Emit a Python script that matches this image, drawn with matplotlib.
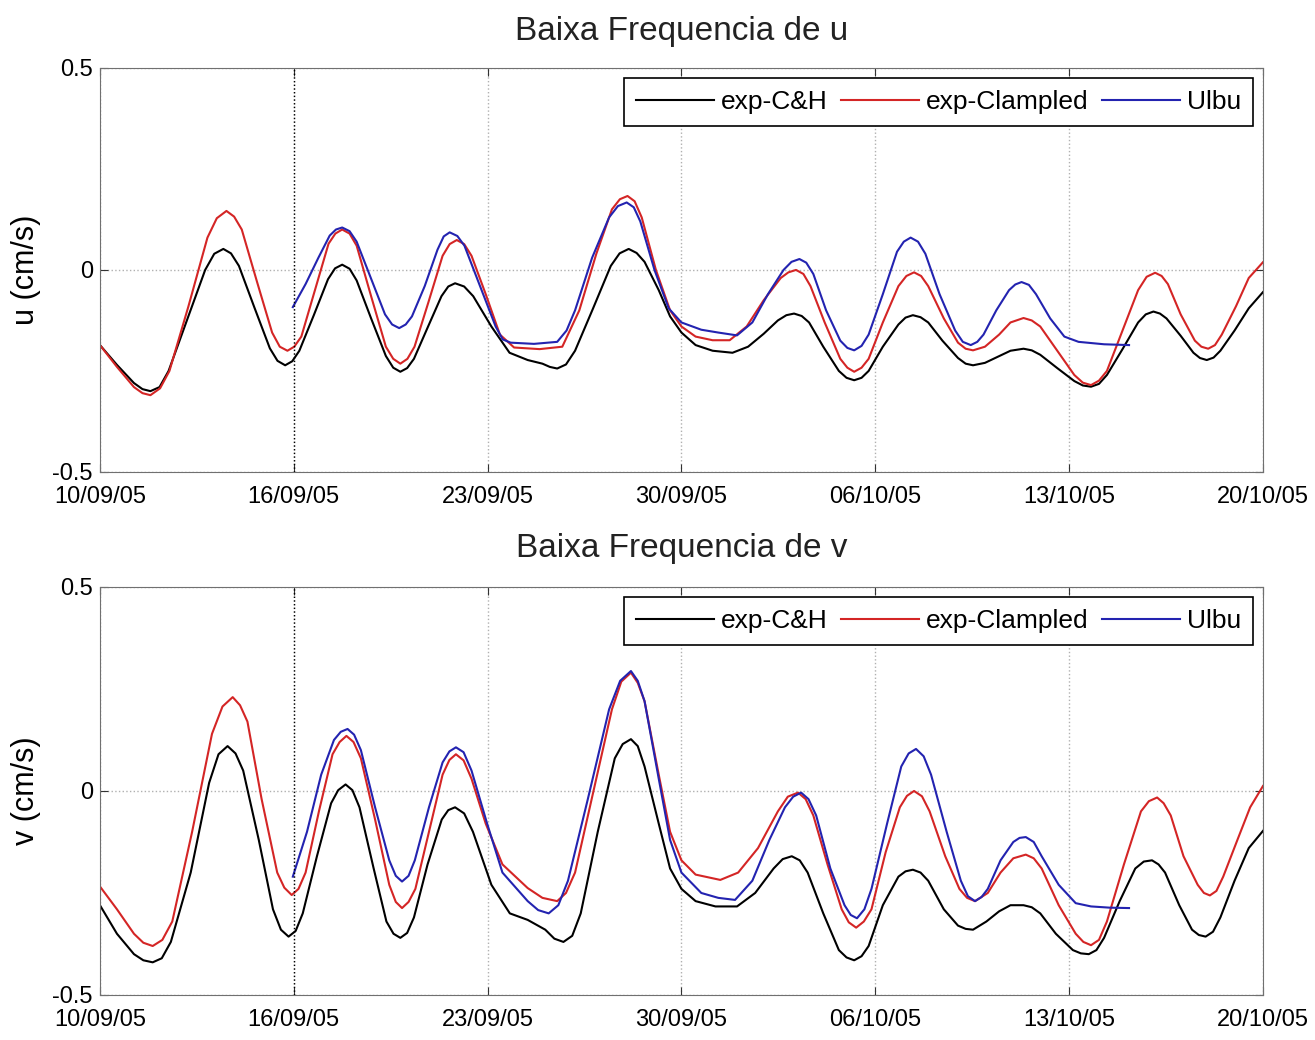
import matplotlib
matplotlib.use("Agg")
import matplotlib.pyplot as plt
import numpy as np

plt.rcParams['font.family'] = ['Liberation Sans', 'DejaVu Sans']

# x axis: days since 10/09/05, ticks evenly spread like the original
tick_labels = ['10/09/05', '16/09/05', '23/09/05', '30/09/05', '06/10/05', '13/10/05', '20/10/05']
x_end = 41.0

# ---- u component (top) ----
u_ch_x = [0, 0.6, 1.2, 1.5, 1.78, 2.1, 2.42, 3.07, 3.71, 4.03, 4.35, 4.62, 4.9, 5.44, 5.99, 6.26, 6.53,
          6.78, 7.03, 7.54, 8.04, 8.29, 8.54, 8.8, 9.05, 9.56, 10.08, 10.34, 10.59, 10.83, 11.07, 11.55,
          12.04, 12.28, 12.52, 12.84, 13.16, 13.8, 14.44, 15.08, 15.6, 15.86, 16.12, 16.43, 16.75, 17.38,
          18.01, 18.32, 18.64, 18.92, 19.2, 19.7, 20.1, 20.5, 21.0, 21.6, 22.3, 22.85, 23.4, 23.9, 24.2,
          24.47, 24.74, 25.0, 25.5, 26.05, 26.32, 26.59, 26.85, 27.1, 27.6, 28.15, 28.4, 28.66, 28.93,
          29.2, 29.7, 30.25, 30.52, 30.78, 31.2, 31.65, 32.1, 32.56, 32.85, 33.15, 33.75, 34.35, 34.65,
          34.94, 35.22, 35.5, 36.05, 36.6, 36.87, 37.14, 37.37, 37.6, 38.1, 38.55, 38.78, 39.02, 39.26,
          39.5, 40.0, 40.5, 41.0]
u_ch = [-0.186, -0.235, -0.28, -0.295, -0.30, -0.29, -0.25, -0.124, 0.0, 0.04, 0.052, 0.041, 0.01,
        -0.092, -0.194, -0.225, -0.236, -0.226, -0.2, -0.112, -0.023, 0.004, 0.013, 0.003, -0.026,
        -0.12, -0.213, -0.242, -0.252, -0.243, -0.22, -0.143, -0.065, -0.041, -0.033, -0.041, -0.065,
        -0.14, -0.205, -0.223, -0.232, -0.24, -0.244, -0.234, -0.2, -0.096, 0.01, 0.041, 0.052, 0.042,
        0.02, -0.05, -0.115, -0.155, -0.186, -0.2, -0.205, -0.19, -0.158, -0.125, -0.112, -0.108,
        -0.114, -0.13, -0.19, -0.25, -0.267, -0.273, -0.267, -0.25, -0.19, -0.135, -0.118, -0.112,
        -0.117, -0.13, -0.175, -0.218, -0.232, -0.236, -0.23, -0.215, -0.2, -0.195, -0.199, -0.21,
        -0.243, -0.275, -0.286, -0.289, -0.282, -0.26, -0.196, -0.13, -0.11, -0.103, -0.108, -0.12,
        -0.163, -0.205, -0.218, -0.223, -0.217, -0.2, -0.15, -0.095, -0.055]

u_cl_x = [0, 0.6, 1.2, 1.5, 1.78, 2.12, 2.45, 3.12, 3.79, 4.12, 4.46, 4.73, 5.0, 5.54, 6.07, 6.34, 6.61,
          6.85, 7.1, 7.58, 8.06, 8.3, 8.54, 8.8, 9.05, 9.56, 10.08, 10.34, 10.59, 10.84, 11.09, 11.58,
          12.08, 12.33, 12.58, 12.84, 13.1, 13.6, 14.1, 14.6, 15.5, 16.3, 16.9, 17.5, 18.05, 18.33, 18.6,
          18.85, 19.1, 19.6, 20.1, 20.5, 21.0, 21.6, 22.2, 22.8, 23.4, 24.0, 24.27, 24.54, 24.8, 25.05,
          25.55, 26.1, 26.35, 26.59, 26.85, 27.1, 27.6, 28.15, 28.43, 28.7, 28.95, 29.2, 29.75, 30.25,
          30.52, 30.78, 31.2, 31.7, 32.1, 32.56, 32.85, 33.15, 33.75, 34.35, 34.65, 34.94, 35.22, 35.5,
          36.05, 36.6, 36.9, 37.2, 37.43, 37.65, 38.1, 38.6, 38.83, 39.07, 39.31, 39.55, 40.05, 40.5,
          41.0]
u_cl = [-0.186, -0.24, -0.29, -0.305, -0.31, -0.293, -0.25, -0.09, 0.08, 0.128, 0.146, 0.132, 0.1,
        -0.03, -0.155, -0.19, -0.2, -0.19, -0.165, -0.05, 0.065, 0.09, 0.10, 0.09, 0.06, -0.065, -0.19,
        -0.22, -0.232, -0.22, -0.19, -0.08, 0.035, 0.064, 0.074, 0.064, 0.035, -0.06, -0.16, -0.192,
        -0.196, -0.19, -0.1, 0.04, 0.15, 0.175, 0.183, 0.17, 0.13, 0.0, -0.1, -0.14, -0.165, -0.174,
        -0.174, -0.14, -0.075, -0.02, -0.006, 0.0, -0.01, -0.04, -0.13, -0.22, -0.242, -0.252, -0.242,
        -0.22, -0.13, -0.04, -0.015, -0.006, -0.015, -0.04, -0.12, -0.18, -0.195, -0.199, -0.19, -0.16,
        -0.13, -0.119, -0.125, -0.14, -0.2, -0.26, -0.279, -0.285, -0.274, -0.25, -0.15, -0.05, -0.017,
        -0.007, -0.015, -0.035, -0.11, -0.175, -0.19, -0.195, -0.186, -0.16, -0.09, -0.02, 0.019]

u_ub_x = [6.8, 7.25, 7.7, 8.1, 8.32, 8.54, 8.8, 9.05, 9.55, 10.05, 10.3, 10.55, 10.78, 11.0, 11.45, 11.9,
          12.12, 12.33, 12.6, 12.85, 13.4, 13.95, 14.2, 14.48, 15.3, 16.12, 16.45, 16.75, 17.35, 17.95,
          18.26, 18.57, 18.82, 19.05, 19.55, 20.05, 20.5, 21.2, 21.8, 22.46, 23.0, 23.55, 24.1, 24.38,
          24.66, 24.9, 25.15, 25.6, 26.1, 26.35, 26.59, 26.85, 27.1, 27.6, 28.1, 28.34, 28.58, 28.84,
          29.1, 29.6, 30.15, 30.42, 30.7, 30.93, 31.15, 31.6, 32.05, 32.27, 32.49, 32.75, 33.0, 33.5,
          34.0, 34.5, 35.4, 36.28]
u_ub = [-0.092, -0.035, 0.03, 0.085, 0.1, 0.105, 0.096, 0.07, -0.02, -0.11, -0.135, -0.144, -0.135,
        -0.115, -0.04, 0.05, 0.083, 0.093, 0.084, 0.06, -0.04, -0.14, -0.172, -0.18, -0.183, -0.178,
        -0.15, -0.1, 0.03, 0.13, 0.158, 0.167, 0.155, 0.12, 0.0, -0.095, -0.13, -0.148, -0.155, -0.162,
        -0.13, -0.06, 0.0, 0.02, 0.027, 0.018, -0.01, -0.1, -0.175, -0.193, -0.199, -0.188, -0.16,
        -0.06, 0.045, 0.07, 0.08, 0.07, 0.04, -0.06, -0.15, -0.178, -0.186, -0.178, -0.16, -0.1, -0.05,
        -0.036, -0.03, -0.037, -0.06, -0.12, -0.165, -0.178, -0.184, -0.186]

# ---- v component (bottom) ----
v_ch_x = [0, 0.6, 1.2, 1.53, 1.86, 2.18, 2.5, 3.2, 3.85, 4.18, 4.5, 4.78, 5.05, 5.6, 6.1, 6.38, 6.65,
          6.9, 7.15, 7.65, 8.15, 8.4, 8.66, 8.9, 9.15, 9.65, 10.1, 10.35, 10.59, 10.83, 11.07, 11.55,
          12.05, 12.28, 12.52, 12.84, 13.15, 13.8, 14.45, 15.08, 15.7, 16.02, 16.34, 16.65, 16.95, 17.55,
          18.15, 18.43, 18.72, 18.96, 19.2, 19.7, 20.1, 20.5, 21.0, 21.7, 22.46, 23.1, 23.75, 24.07,
          24.39, 24.67, 24.95, 25.5, 26.05, 26.32, 26.59, 26.85, 27.1, 27.6, 28.15, 28.4, 28.66, 28.93,
          29.2, 29.75, 30.25, 30.52, 30.78, 31.25, 31.7, 32.1, 32.56, 32.85, 33.15, 33.7, 34.3, 34.58,
          34.86, 35.13, 35.4, 35.95, 36.5, 36.8, 37.09, 37.32, 37.55, 38.05, 38.5, 38.74, 38.98, 39.24,
          39.5, 40.0, 40.5, 41.0]
v_ch = [-0.28, -0.35, -0.4, -0.415, -0.42, -0.41, -0.37, -0.2, 0.02, 0.09, 0.11, 0.092, 0.05, -0.12,
        -0.29, -0.34, -0.357, -0.343, -0.3, -0.16, -0.03, 0.002, 0.016, 0.002, -0.04, -0.19, -0.32,
        -0.35, -0.36, -0.348, -0.31, -0.18, -0.07, -0.047, -0.04, -0.055, -0.1, -0.23, -0.3, -0.316,
        -0.34, -0.362, -0.37, -0.355, -0.3, -0.1, 0.08, 0.115, 0.127, 0.11, 0.06, -0.08, -0.19, -0.24,
        -0.27, -0.283, -0.283, -0.25, -0.19, -0.167, -0.16, -0.17, -0.2, -0.3, -0.39, -0.408, -0.415,
        -0.405, -0.38, -0.28, -0.21, -0.197, -0.193, -0.2, -0.22, -0.29, -0.33, -0.338, -0.34, -0.32,
        -0.295, -0.28, -0.28, -0.285, -0.3, -0.35, -0.39, -0.398, -0.40, -0.39, -0.36, -0.27, -0.19,
        -0.173, -0.17, -0.18, -0.2, -0.28, -0.34, -0.353, -0.357, -0.345, -0.31, -0.22, -0.14, -0.098]

v_cl_x = [0, 0.6, 1.2, 1.53, 1.86, 2.2, 2.55, 3.25, 3.95, 4.32, 4.68, 4.94, 5.2, 5.7, 6.25, 6.5, 6.76,
          7.0, 7.25, 7.72, 8.2, 8.45, 8.69, 8.94, 9.2, 9.7, 10.2, 10.43, 10.65, 10.88, 11.12, 11.6, 12.08,
          12.32, 12.55, 12.82, 13.1, 13.6, 14.19, 15.08, 15.6, 16.12, 16.43, 16.75, 17.4, 18.05, 18.38,
          18.72, 18.96, 19.2, 19.7, 20.1, 20.5, 21.0, 21.87, 22.5, 23.2, 23.9, 24.25, 24.61, 24.88, 25.15,
          25.65, 26.15, 26.4, 26.66, 26.93, 27.2, 27.7, 28.2, 28.45, 28.7, 28.98, 29.25, 29.8, 30.3,
          30.57, 30.85, 31.3, 31.75, 32.2, 32.64, 32.92, 33.2, 33.8, 34.4, 34.67, 34.94, 35.22, 35.5,
          36.1, 36.7, 36.98, 37.27, 37.5, 37.75, 38.2, 38.7, 38.92, 39.13, 39.36, 39.6, 40.1, 40.55,
          41.0]
v_cl = [-0.234, -0.29, -0.35, -0.372, -0.38, -0.365, -0.32, -0.1, 0.14, 0.207, 0.23, 0.21, 0.17, -0.02,
        -0.2, -0.237, -0.255, -0.24, -0.2, -0.05, 0.09, 0.12, 0.135, 0.12, 0.08, -0.07, -0.23, -0.272,
        -0.287, -0.272, -0.24, -0.1, 0.04, 0.076, 0.09, 0.075, 0.03, -0.08, -0.18, -0.238, -0.262,
        -0.27, -0.25, -0.2, 0.0, 0.2, 0.268, 0.29, 0.265, 0.22, 0.04, -0.1, -0.17, -0.205, -0.218,
        -0.2, -0.14, -0.05, -0.014, -0.004, -0.02, -0.06, -0.18, -0.29, -0.322, -0.335, -0.32, -0.29,
        -0.15, -0.04, -0.012, 0.0, -0.013, -0.05, -0.16, -0.24, -0.262, -0.27, -0.25, -0.2, -0.165,
        -0.156, -0.165, -0.19, -0.28, -0.35, -0.37, -0.378, -0.365, -0.32, -0.18, -0.05, -0.025,
        -0.016, -0.03, -0.06, -0.16, -0.23, -0.25, -0.256, -0.245, -0.21, -0.12, -0.04, 0.012]

v_ub_x = [6.8, 7.3, 7.8, 8.25, 8.49, 8.73, 8.96, 9.2, 9.7, 10.2, 10.43, 10.65, 10.88, 11.1, 11.6, 12.08,
          12.32, 12.55, 12.82, 13.1, 13.65, 14.19, 15.08, 15.45, 15.82, 16.16, 16.5, 17.2, 17.95, 18.34,
          18.72, 18.96, 19.2, 19.7, 20.1, 20.5, 21.2, 21.8, 22.39, 23.0, 23.6, 24.15, 24.44, 24.72, 24.98,
          25.25, 25.75, 26.25, 26.47, 26.69, 26.95, 27.2, 27.75, 28.25, 28.51, 28.77, 29.04, 29.3, 29.85,
          30.35, 30.6, 30.85, 31.08, 31.3, 31.75, 32.2, 32.42, 32.64, 32.92, 33.2, 33.8, 34.4, 34.94,
          35.6, 36.28]
v_ub = [-0.21, -0.1, 0.04, 0.125, 0.145, 0.152, 0.138, 0.1, -0.04, -0.17, -0.208, -0.222, -0.208, -0.17,
        -0.04, 0.07, 0.097, 0.107, 0.095, 0.05, -0.08, -0.2, -0.27, -0.292, -0.30, -0.28, -0.22, -0.02,
        0.2, 0.27, 0.294, 0.27, 0.22, 0.03, -0.12, -0.2, -0.25, -0.262, -0.267, -0.22, -0.12, -0.04,
        -0.014, -0.004, -0.02, -0.06, -0.19, -0.28, -0.304, -0.312, -0.29, -0.24, -0.08, 0.06, 0.092,
        0.103, 0.085, 0.04, -0.1, -0.22, -0.258, -0.27, -0.26, -0.24, -0.17, -0.125, -0.115, -0.113,
        -0.125, -0.16, -0.23, -0.275, -0.283, -0.286, -0.287]

panels = [
    ('Baixa Frequencia de u', 'u (cm/s)', (u_ch_x, u_ch), (u_cl_x, u_cl), (u_ub_x, u_ub)),
    ('Baixa Frequencia de v', 'v (cm/s)', (v_ch_x, v_ch), (v_cl_x, v_cl), (v_ub_x, v_ub)),
]

names = ['exp-C&H', 'exp-Clampled', 'Ulbu']
colors = ['black', '#d42525', '#2323b0']

fig = plt.figure(figsize=(13.15, 10.4), dpi=100)
rects = [[0.076, 0.5462, 0.8844, 0.3885], [0.076, 0.0433, 0.8844, 0.3923]]
title_y = [1.09, 1.095]
xticks = np.linspace(0, x_end, len(tick_labels))

for rect, ty, (title, ylab, s1, s2, s3) in zip(rects, title_y, panels):
    ax = fig.add_axes(rect)
    for (xs, ys), name, c in zip([s1, s2, s3], names, colors):
        ax.plot(xs, ys, color=c, lw=1.5, label=name, solid_joinstyle='round')
    ax.set_xlim(0, x_end)
    ax.set_ylim(-0.5, 0.5)
    ax.set_xticks(xticks)
    ax.set_xticklabels(tick_labels)
    ax.set_yticks([-0.5, 0, 0.5])
    ax.set_yticklabels(['-0.5', '0', '0.5'])
    ax.tick_params(direction='in', length=6, labelsize=17, color='#333333',
                   top=True, right=True)
    ax.tick_params(axis='x', pad=10)
    ax.tick_params(axis='y', pad=5)
    ax.grid(True, linestyle=':', color='#b0b0b0', lw=1.0)
    ax.axvline(xticks[1], color='black', linestyle=':', lw=1.0)
    for sp in ax.spines.values():
        sp.set_color('#707070')
    ax.set_ylabel(ylab, fontsize=22)
    ax.yaxis.set_label_coords(-0.051, 0.5)
    ax.text(0.5, ty, title, transform=ax.transAxes, ha='center', va='center',
            fontsize=24, color='#222222')
    leg = ax.legend(loc='upper right', ncol=3, fontsize=19, frameon=True, fancybox=False,
                    handlelength=2.95, handletextpad=0.27, columnspacing=0.5,
                    borderaxespad=0.38, borderpad=0.45)
    leg.get_frame().set_edgecolor('black')
    leg.get_frame().set_linewidth(1.2)
    leg.get_frame().set_alpha(1)

fig.savefig('out.png', dpi=100, facecolor='white')
